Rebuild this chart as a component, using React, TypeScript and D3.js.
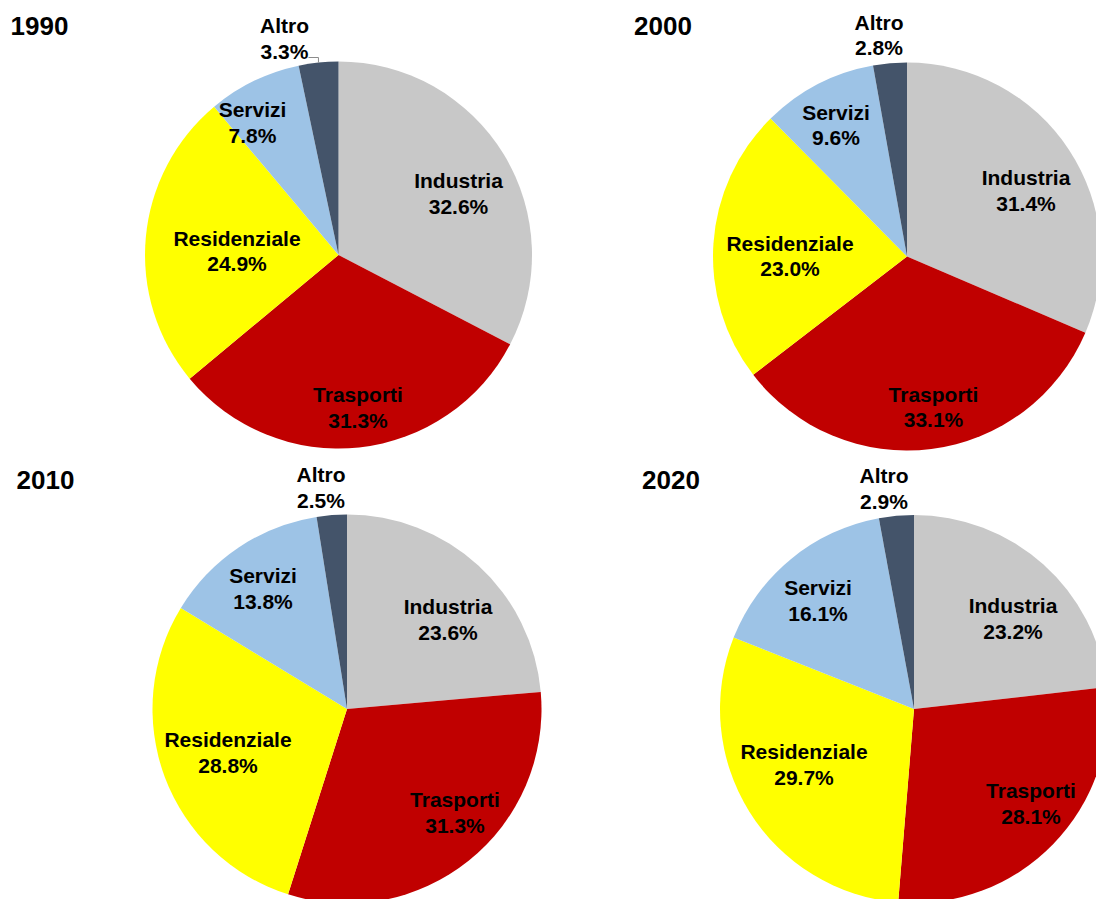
import React from "react";
import * as d3 from "d3";

// ---- data ----
const categories = ["Industria", "Trasporti", "Residenziale", "Servizi", "Altro"];
const years = ["1990", "2000", "2010", "2020"];
const values1990 = [32.6, 31.3, 24.9, 7.8, 3.3];
const values2000 = [31.4, 33.1, 23.0, 9.6, 2.8];
const values2010 = [23.6, 31.3, 28.8, 13.8, 2.5];
const values2020 = [23.2, 28.1, 29.7, 16.1, 2.9];
const seriesValues = [values1990, values2000, values2010, values2020];

// ---- styles / layout ----
const colors = ["#C8C8C8", "#C00000", "#FFFF00", "#9DC3E6", "#44546A"];
const W = 1096;
const H = 899;
const pieLayout = [
  { cx: 338.5, cy: 255, r: 193.5, tx: 10.5, ty: 35 },
  { cx: 907, cy: 256.5, r: 194, tx: 634, ty: 34.5 },
  { cx: 347, cy: 709, r: 194.5, tx: 16.5, ty: 489 },
  { cx: 914, cy: 709, r: 194, tx: 642, ty: 489 },
];
// label first-line baseline centre, relative to the pie centre
const labelOffsets = [
  [[120, -67], [19.5, 147], [-101.5, -9.5], [-86, -138], [-54, -222]],
  [[119, -71.5], [26.5, 145], [-117, -6], [-71, -137], [-28, -227]],
  [[101, -95], [108, 98], [-119, 38], [-84, -126], [-26, -227]],
  [[99, -96], [117, 89], [-110, 50], [-96, -114], [-30, -226]],
];
const leaderFor = [[4], [], [], []]; // slice indices that get a leader line
const FONT = "'Liberation Sans', Arial, Helvetica, sans-serif";
const LINE = 25.5;

function Pie({ idx }: { idx: number }) {
  const values = seriesValues[idx];
  const L = pieLayout[idx];
  const pie = d3.pie<number>().sort(null).value((d) => d);
  const arcs = pie(values);
  const arc = d3.arc<d3.PieArcDatum<number>>().innerRadius(0).outerRadius(L.r);
  return (
    <g>
      <text x={L.tx} y={L.ty} fontFamily={FONT} fontWeight="bold" fontSize={26} fill="#000">
        {years[idx]}
      </text>
      <g transform={`translate(${L.cx},${L.cy})`}>
        {arcs.map((a, i) => (
          <path key={i} d={arc(a) || ""} fill={colors[i]} />
        ))}
        {arcs.map((a, i) => {
          const [dx, dy] = labelOffsets[idx][i];
          const pct = values[i].toFixed(1) + "%";
          return (
            <text
              key={"t" + i}
              fontFamily={FONT}
              fontWeight="bold"
              fontSize={21}
              fill="#000"
              textAnchor="middle"
            >
              <tspan x={dx} y={dy}>{categories[i]}</tspan>
              <tspan x={dx} y={dy + LINE}>{pct}</tspan>
            </text>
          );
        })}
        {leaderFor[idx].map((i) => {
          const a = arcs[i];
          const mid = (a.startAngle + a.endAngle) / 2;
          const ex = L.r * Math.sin(mid);
          const ey = -L.r * Math.cos(mid);
          const [dx, dy] = labelOffsets[idx][i];
          const sx = dx + 24;
          const sy = dy + LINE - 1;
          return (
            <path
              key={"l" + i}
              d={`M${sx},${sy}L${ex},${sy}L${ex},${ey}`}
              fill="none"
              stroke="#8c8c8c"
              strokeWidth={1}
            />
          );
        })}
      </g>
    </g>
  );
}

export default function App() {
  return (
    <svg
      width={W}
      height={H}
      viewBox={`0 0 ${W} ${H}`}
      style={{ position: "absolute", left: 0, top: 0, overflow: "hidden", background: "#fff" }}
    >
      <rect x={0} y={0} width={W} height={H} fill="#fff" />
      {years.map((_, i) => (
        <Pie key={i} idx={i} />
      ))}
    </svg>
  );
}
